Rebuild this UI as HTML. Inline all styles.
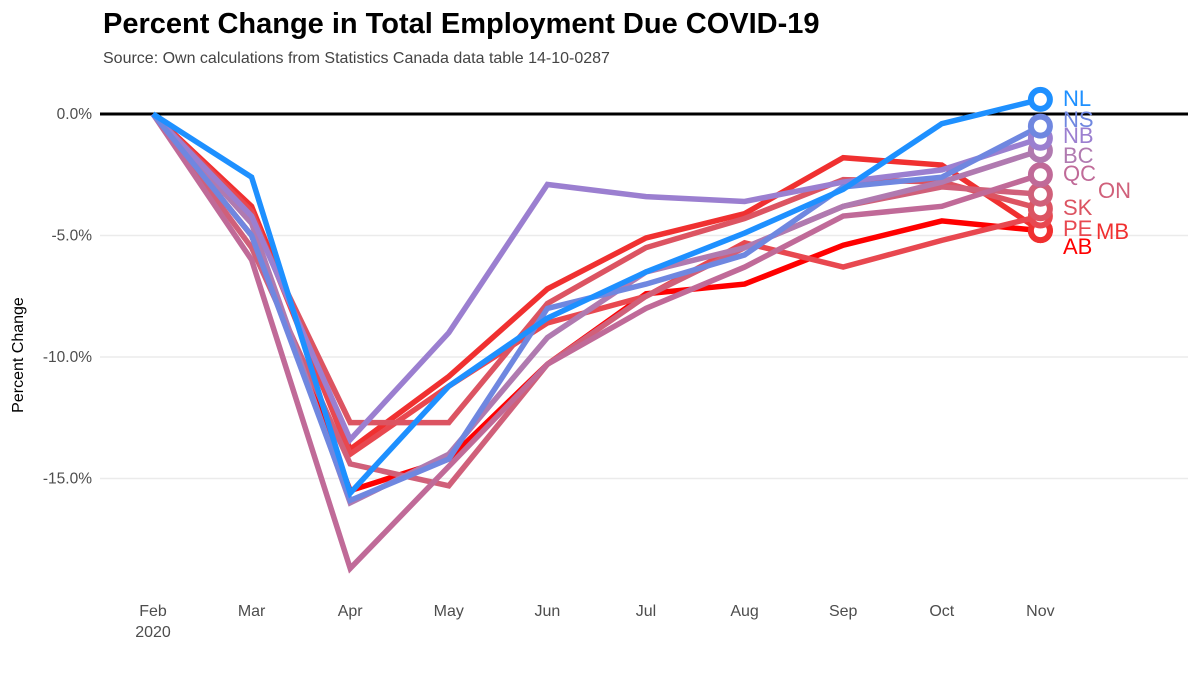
<!DOCTYPE html>
<html><head><meta charset="utf-8"><style>
body{margin:0;background:#fff;}
svg text{font-family:"Liberation Sans",sans-serif;}
</style></head><body>
<svg id="chart" width="1200" height="675" xmlns="http://www.w3.org/2000/svg">
<text x="103" y="33" font-size="29" font-weight="bold" fill="#000">Percent Change in Total Employment Due COVID-19</text>
<text x="103" y="63" font-size="16" fill="#444">Source: Own calculations from Statistics Canada data table 14-10-0287</text>
<text transform="translate(23,355) rotate(-90)" text-anchor="middle" font-size="16" fill="#000">Percent Change</text>
<g id="grid"></g><g id="lines"></g><g id="labels"></g>
</svg>
<script>
const months=["Feb","Mar","Apr","May","Jun","Jul","Aug","Sep","Oct","Nov"];
const yTicks=[0,-5,-10,-15];
const provinces=["NL","NS","NB","BC","QC","ON","SK","PE","MB","AB"];
const colors=["#1e90ff","#6f87e0","#9b7fd0","#b07ab0","#c06a98","#d0607a","#dc5462","#e84850","#f03030","#ff0000"];
const NL=[0,-2.6,-15.6,-11.2,-8.4,-6.5,-4.9,-3.1,-0.4,0.6];
const NS=[0,-5.0,-15.9,-14.2,-8.0,-7.0,-5.8,-3.0,-2.6,-0.5];
const NB=[0,-4.2,-13.4,-9.0,-2.9,-3.4,-3.6,-2.8,-2.3,-1.0];
const BC=[0,-4.5,-16.0,-14.0,-9.2,-6.5,-5.5,-3.8,-2.8,-1.5];
const QC=[0,-6.0,-18.7,-14.5,-10.3,-8.0,-6.3,-4.2,-3.8,-2.5];
const ON=[0,-5.5,-14.4,-15.3,-10.3,-7.5,-5.5,-3.8,-3.0,-3.3];
const SK=[0,-4.3,-12.7,-12.7,-7.8,-5.5,-4.3,-2.7,-2.8,-3.9];
const PE=[0,-4.0,-14.0,-11.2,-8.6,-7.5,-5.3,-6.3,-5.2,-4.2];
const MB=[0,-3.8,-13.8,-10.8,-7.2,-5.1,-4.1,-1.8,-2.1,-4.8];
const AB=[0,-5.0,-15.5,-14.2,-10.3,-7.4,-7.0,-5.4,-4.4,-4.8];
const series=[NL,NS,NB,BC,QC,ON,SK,PE,MB,AB];
const labelPos=[[1063,106],[1063,127],[1063,143],[1063,163],[1063,181],[1098,198],[1063,215],[1063,236],[1096,239],[1063,254]];
const X=i=>153+i*98.6, Y=v=>114-v*24.3;
const NS_="http://www.w3.org/2000/svg";
function mk(t,a,p){const e=document.createElementNS(NS_,t);for(const k in a)e.setAttribute(k,a[k]);p.appendChild(e);return e;}
const grid=document.getElementById('grid'),lines=document.getElementById('lines'),labels=document.getElementById('labels');
yTicks.forEach(t=>{
 const l=mk('line',{x1:100,x2:1188,y1:Y(t),y2:Y(t),stroke:t===0?'#000':'#ebebeb','stroke-width':t===0?3:1.5},grid);
 
 
 const tx=mk('text',{x:92,y:Y(t)+5,'text-anchor':'end','font-size':15.5,fill:'#4d4d4d'},grid);
 tx.textContent=t.toFixed(1)+'%';
 
 
});
months.forEach((m,i)=>{
 const tx=mk('text',{x:X(i),y:616,'text-anchor':'middle','font-size':16,fill:'#4d4d4d'},grid);
 tx.textContent=m;
 
 
});
const yr=mk('text',{x:X(0),y:637,'text-anchor':'middle','font-size':16,fill:'#4d4d4d'},grid);
yr.textContent='2020';


for(let s=series.length-1;s>=0;s--){
 const d=series[s].map((v,i)=>(i?'L':'M')+X(i)+','+Y(v)).join(' ');
 const p=mk('path',{d:d,fill:'none',stroke:colors[s],'stroke-width':5.5,'stroke-linejoin':'miter'},lines);
 
 
}
for(let s=series.length-1;s>=0;s--){
 const last=series[s].length-1;
 const c=mk('circle',{cx:X(last),cy:Y(series[s][last]),r:9.5,fill:'#fff',stroke:colors[s],'stroke-width':6},lines);
 
 
}
provinces.forEach((p,s)=>{
 const tx=mk('text',{x:labelPos[s][0],y:labelPos[s][1],'font-size':22,fill:colors[s]},labels);
 tx.textContent=p;
 
 
});
</script>
</body></html>
